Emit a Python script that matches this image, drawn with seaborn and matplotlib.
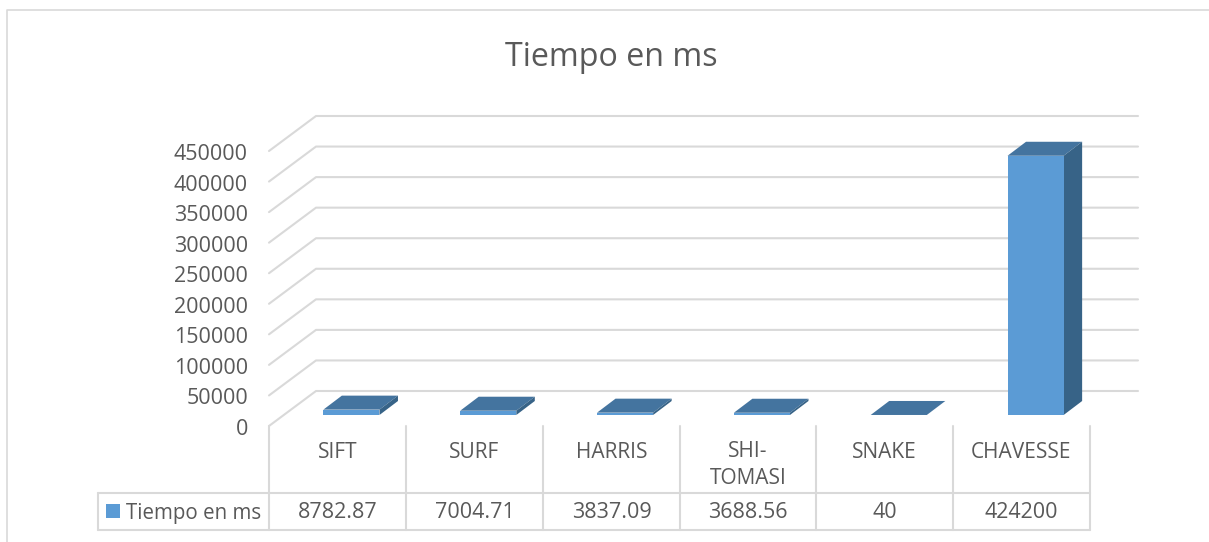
import numpy as np
import pandas as pd
import seaborn as sns
import matplotlib.pyplot as plt
from matplotlib.patches import Polygon, Rectangle

# data
methods = ['SIFT', 'SURF', 'HARRIS', 'SHI-\nTOMASI', 'SNAKE', 'CHAVESSE']
times = [8782.87, 7004.71, 3837.09, 3688.56, 40, 424200]
time_labels = ['8782.87', '7004.71', '3837.09', '3688.56', '40', '424200']
y_ticks = [0, 50000, 100000, 150000, 200000, 250000, 300000, 350000, 400000, 450000]
series_name = 'Tiempo en ms'

W, H = 1209, 542
grey = '#595959'
line_col = '#D9D9D9'
front_col = '#5B9BD5'
top_col = '#44749F'
side_col = '#376387'

sns.set_theme(style='white')
plt.rcParams['font.family'] = ['Open Sans', 'DejaVu Sans']

df = pd.DataFrame({'method': methods, 'time': times})

fig = plt.figure(figsize=(W / 100, H / 100), dpi=100)

# background layer in pixel coords (frame, walls, table)
bg = fig.add_axes([0, 0, 1, 1], zorder=0)
bg.set_xlim(0, W)
bg.set_ylim(H, 0)
bg.axis('off')

# bars layer: y=0 at pixel 415, 450000 at pixel 140
left, right, floor, top = 283, 1104, 415, 140
ax = fig.add_axes([left / W, 1 - floor / H, (right - left) / W, (floor - top) / H], zorder=1)
ax.patch.set_alpha(0)
sns.barplot(data=df, x='method', y='time', color=front_col, width=0.41, saturation=1, ax=ax)
ax.set_ylim(0, 450000)
ax.set_xlim(-0.5, 5.5)
ax.axis('off')


def val_to_px(v):
    return floor - v / 450000 * (floor - top)


# frame, only left and top are visible in the crop
bg.plot([7, 7, W], [H, 10, 10], color=line_col, lw=1.2)

# walls and gridlines
for v in y_ticks:
    y = val_to_px(v)
    bg.plot([269, 316, 1138], [y + 11, y - 24, y - 24], color=line_col, lw=1.5)
    bg.text(248, y + 14.5, str(v), ha='right', va='center', fontsize=15.5, color=grey)

# 3d faces of the bars, built from the drawn rectangles
dx, dy = 18.5, 14
for bar in ax.patches:
    bar.set_edgecolor('none')
    x0, x1 = bar.get_x(), bar.get_x() + bar.get_width()
    (px0, py0), (px1, py1) = ax.transData.transform([(x0, bar.get_height()), (x1, 0)])
    py0, py1 = H - py0, H - py1
    bg.add_patch(Polygon([(px0, py0), (px1, py0), (px1 + dx, py0 - dy), (px0 + dx, py0 - dy)],
                         color=top_col, lw=0, zorder=5))
    bg.add_patch(Polygon([(px1, py0), (px1 + dx, py0 - dy), (px1 + dx, py1 - dy), (px1, py1)],
                         color=side_col, lw=0, zorder=5))

# title
bg.text(611, 57, series_name, ha='center', va='center', fontsize=23.2, color=grey)

# data table
col_edges = [269, 406, 543, 680, 816, 953, 1090]
for x in col_edges:
    bg.plot([x, x], [426, 530], color=line_col, lw=1.5)
bg.plot([98, 1090], [492.5, 492.5], color=line_col, lw=1.5)
bg.plot([98, 1090], [530, 530], color=line_col, lw=1.5)
bg.plot([98, 98], [492.5, 530], color=line_col, lw=1.5)

for i in range(len(methods)):
    cx = (col_edges[i] + col_edges[i + 1]) / 2
    cy = 465 if '\n' in methods[i] else 452
    bg.text(cx, cy, methods[i], ha='center', va='center',
            fontsize=15, color=grey, linespacing=1.32)
    bg.text(cx, 513, time_labels[i], ha='center', va='center', fontsize=15.5, color=grey)

bg.add_patch(Rectangle((106, 504), 14, 14, color=front_col, lw=0))
bg.text(126, 513, series_name, ha='left', va='center', fontsize=14.8, color=grey)

fig.savefig('out.png', dpi=100)
